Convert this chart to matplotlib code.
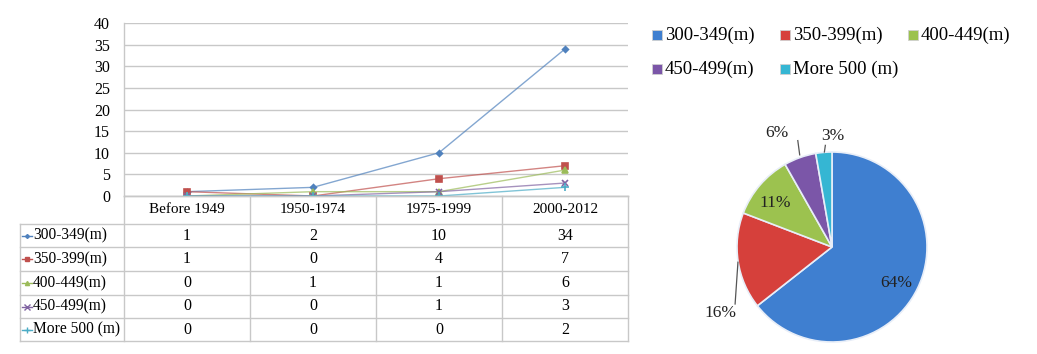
import matplotlib
matplotlib.use("Agg")
import matplotlib.pyplot as plt
from matplotlib.patches import Rectangle
import numpy as np

plt.rcParams['font.family'] = ['Liberation Serif', 'DejaVu Serif']

periods = ["Before 1949", "1950-1974", "1975-1999", "2000-2012"]
series_names = ["300-349(m)", "350-399(m)", "400-449(m)", "450-499(m)", "More 500 (m)"]
legend_names = ["300-349(m)", "350-399(m)", "400-449(m)", "450-499(m)", "More 500 (m)"]
s300 = [1, 2, 10, 34]
s350 = [1, 0, 4, 7]
s400 = [0, 1, 1, 6]
s450 = [0, 0, 1, 3]
s500 = [0, 0, 0, 2]
series = [s300, s350, s400, s450, s500]
pie_labels = ["64%", "16%", "11%", "6%", "3%"]
yticks = [0, 5, 10, 15, 20, 25, 30, 35, 40]

line_colors = ["#4F81BD", "#C0504D", "#9BBB59", "#8064A2", "#4BACC6"]
pie_colors = ["#3f7fd0", "#d6403b", "#9cc24f", "#7b56a8", "#35b6d3"]
markers = ["D", "s", "^", "x", "+"]
msizes = [3, 4, 4, 5, 6]

W, H = 1037, 354
fig = plt.figure(figsize=(W / 100, H / 100), dpi=100)

def fbox(x0, y0, x1, y1):
    return [x0 / W, 1 - y1 / H, (x1 - x0) / W, (y1 - y0) / H]

grid_c = "#c8c8c8"

# ---- line chart ----
ax = fig.add_axes(fbox(124, 23, 628, 196))
x = np.arange(len(periods))
for vals, c, m, ms in zip(series, line_colors, markers, msizes):
    ax.plot(x, vals, color=c, lw=1.0, alpha=0.7, zorder=3)
    ax.plot(x, vals, ls='none', marker=m, ms=ms, color=c, mec=c, mew=1.2, zorder=4)
ax.set_xlim(-0.5, len(periods) - 0.5)
ax.set_ylim(0, 40)
ax.set_yticks(yticks)
ax.set_yticklabels([str(v) for v in yticks], fontsize=11.5)
ax.tick_params(axis='y', length=0, pad=10)
ax.set_xticks([])
ax.grid(axis='y', color=grid_c, lw=1.0)
ax.set_axisbelow(True)
for sp in ['top', 'right']:
    ax.spines[sp].set_visible(False)
for sp in ['left', 'bottom']:
    ax.spines[sp].set_color(grid_c)
    ax.spines[sp].set_linewidth(1.0)

# ---- data table ----
tx0, tx1 = 20, 628
tab = fig.add_axes(fbox(tx0, 196, tx1, 341))
unit = 504 / len(periods)
left_lim = -0.5 - (124 - tx0) / unit
tab.set_xlim(left_lim, len(periods) - 0.5)
row_edges = [0, 28, 51.5, 75, 99, 122, 145]  # px below 196
tab.set_ylim(145, 0)
tab.axis('off')
lc = grid_c
for b in np.arange(-0.5, len(periods), 1.0):
    tab.plot([b, b], [0, 145], color=lc, lw=1.0, clip_on=False)
tab.plot([left_lim, left_lim], [28, 145], color=lc, lw=1.0, clip_on=False)
for i, yv in enumerate(row_edges):
    if i == 0:
        tab.plot([-0.5, len(periods) - 0.5], [yv, yv], color=lc, lw=1.0, clip_on=False)
    else:
        tab.plot([left_lim, len(periods) - 0.5], [yv, yv], color=lc, lw=1.0, clip_on=False)
for i, p in enumerate(periods):
    tab.text(i, 14, p, ha='center', va='center', fontsize=11)
for r, (name, vals, c, m, ms) in enumerate(zip(series_names, series, line_colors, markers, msizes)):
    yc = (row_edges[r + 1] + row_edges[r + 2]) / 2
    xa = left_lim + 2 / unit
    xb = left_lim + 12 / unit
    tab.plot([xa, xb], [yc, yc], color=c, lw=1.0, clip_on=False)
    tab.plot([(xa + xb) / 2], [yc], marker=m, ms=ms - 1, color=c, mew=1.0, clip_on=False)
    tab.text(xb + 1 / unit, yc, name, ha='left', va='center', fontsize=11.2)
    for i, v in enumerate(vals):
        tab.text(i, yc, str(v), ha='center', va='center', fontsize=11.5)

# ---- pie chart ----
totals = [sum(v) for v in series]
pcx, pcy, R = 832, 247, 95
half = 150
pax = fig.add_axes(fbox(pcx - half, pcy - half, pcx + half, pcy + half))
lim = half / R
pax.pie(totals, colors=pie_colors, startangle=90, counterclock=False,
        radius=1.0, wedgeprops=dict(edgecolor='#e8eef8', linewidth=1.2))
pax.set_xlim(-lim, lim)
pax.set_ylim(-lim, lim)
pax.set_aspect('equal')
pax.axis('off')

label_pos = [(0.68, -0.38), (-1.17, -0.69), (-0.6, 0.46), (-0.58, 1.2), (0.01, 1.17)]
leaders = [None, ((-0.99, -0.16), (-1.02, -0.6)), None,
           ((-0.34, 0.97), (-0.36, 1.12)), ((-0.08, 1.0), (-0.07, 1.07))]
for lab, pos, ld in zip(pie_labels, label_pos, leaders):
    pax.text(pos[0], pos[1], lab, ha='center', va='center', fontsize=12.5, color='#222222')
    if ld is not None:
        pax.plot([ld[0][0], ld[1][0]], [ld[0][1], ld[1][1]], color='#555555', lw=0.9)

# ---- pie legend ----
leg_x = [657, 785, 913]
leg_y = [35, 69]
for k, (name, c) in enumerate(zip(legend_names, pie_colors)):
    col = k % 3
    row = k // 3
    xm, ym = leg_x[col], leg_y[row]
    fig.patches.append(Rectangle(((xm - 5) / W, 1 - (ym + 5) / H), 10 / W, 10 / H,
                                 transform=fig.transFigure, facecolor=c,
                                 edgecolor='#d0d0d0', lw=0.6))
    fig.text((xm + 8) / W, 1 - ym / H, name, ha='left', va='center', fontsize=13.5)

fig.savefig("out.png", dpi=100, facecolor='white')
